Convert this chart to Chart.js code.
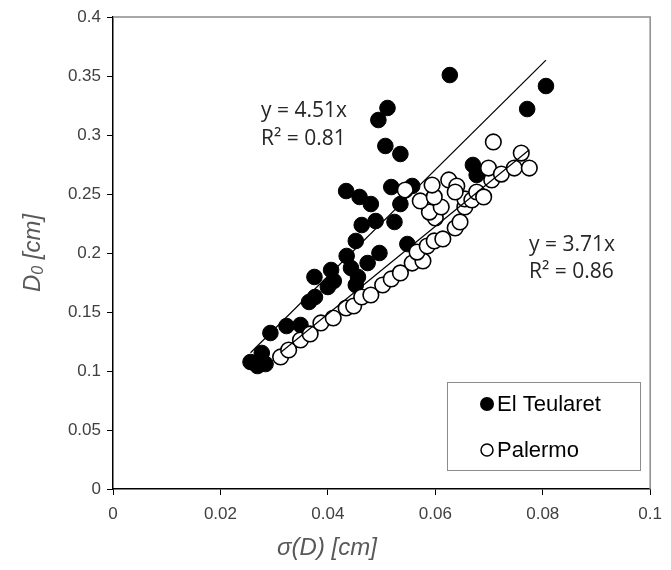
<!DOCTYPE html>
<html>
<head>
<meta charset="utf-8">
<script src="https://cdn.jsdelivr.net/npm/chart.js@4.4.1/dist/chart.umd.min.js"></script>
<style>
  html, body { margin: 0; padding: 0; background: #fff; }
  #wrap { width: 671px; height: 570px; }
</style>
</head>
<body>
<div id="wrap"><canvas id="scatterChart" width="671" height="570"></canvas></div>
<script>
// Data
const teularetX = [0.0256, 0.0269, 0.0284, 0.0277, 0.0293, 0.0323, 0.0349, 0.0365, 0.0376, 0.0375,
    0.0406, 0.0411, 0.0400, 0.0435, 0.0443, 0.0456, 0.0452, 0.0474, 0.0496, 0.0452,
    0.0463, 0.0489, 0.0524, 0.0548, 0.0535, 0.0480, 0.0459, 0.0434, 0.0518, 0.0557,
    0.0535, 0.0507, 0.0494, 0.0511, 0.0627, 0.0670, 0.0677, 0.0771, 0.0806];
const teularetY = [0.1076, 0.1042, 0.1059, 0.1153, 0.1322, 0.1381, 0.1390, 0.1585, 0.1627, 0.1797,
    0.1856, 0.1763, 0.1712, 0.1975, 0.1873, 0.1797, 0.1729, 0.1915, 0.2000, 0.2102,
    0.2237, 0.2271, 0.2263, 0.2076, 0.2415, 0.2415, 0.2475, 0.2525, 0.2559, 0.2568,
    0.2839, 0.2907, 0.3127, 0.3229, 0.3508, 0.2746, 0.2661, 0.3220, 0.3415];

const palermoX = [0.0312, 0.0327, 0.0349, 0.0367, 0.0387, 0.0410, 0.0434, 0.0448, 0.0463, 0.0480,
    0.0502, 0.0518, 0.0535, 0.0557, 0.0577, 0.0566, 0.0585, 0.0598, 0.0614, 0.0637,
    0.0646, 0.0600, 0.0589, 0.0611, 0.0655, 0.0572, 0.0598, 0.0655, 0.0668, 0.0544,
    0.0594, 0.0625, 0.0640, 0.0637, 0.0677, 0.0690, 0.0705, 0.0699, 0.0723, 0.0747,
    0.0775, 0.0760, 0.0708];
const palermoY = [0.1119, 0.1178, 0.1263, 0.1314, 0.1407, 0.1449, 0.1534, 0.1551, 0.1627, 0.1644,
    0.1729, 0.1780, 0.1831, 0.1915, 0.1932, 0.2008, 0.2059, 0.2102, 0.2119, 0.2212,
    0.2263, 0.2297, 0.2347, 0.2390, 0.2390, 0.2441, 0.2475, 0.2458, 0.2449, 0.2534,
    0.2576, 0.2619, 0.2568, 0.2517, 0.2517, 0.2475, 0.2619, 0.2720, 0.2669, 0.2720,
    0.2720, 0.2847, 0.2941];

const seriesNames = ["El Teularet", "Palermo"];
const slopes = [4.51, 3.71];
const fitLabels = [["y = 4.51x", "R\u00b2 = 0.81"], ["y = 3.71x", "R\u00b2 = 0.86"]];
const xTicks = ["0", "0.02", "0.04", "0.06", "0.08", "0.1"];
const yTicks = ["0", "0.05", "0.1", "0.15", "0.2", "0.25", "0.3", "0.35", "0.4"];

function toPoints(xs, ys) {
    return xs.map((x, i) => ({ x: x, y: ys[i] }));
}
// trend line through origin, spanning the series' x range
function fitLine(xs, slope) {
    const lo = Math.min(...xs), hi = Math.max(...xs);
    return [{ x: lo, y: lo * slope }, { x: hi, y: hi * slope }];
}

// axis titles, fit labels, legend and plot frame
const extras = {
    id: "extras",
    afterDraw(chart) {
        const ctx = chart.ctx;
        const a = chart.chartArea;
        ctx.save();
        // grey frame on top and right
        ctx.strokeStyle = "#8c8c8c";
        ctx.lineWidth = 1.5;
        ctx.beginPath();
        ctx.moveTo(a.left, a.top);
        ctx.lineTo(a.right, a.top);
        ctx.lineTo(a.right, a.bottom);
        ctx.stroke();

        // x title
        ctx.fillStyle = "#595959";
        ctx.font = "italic 24px 'Liberation Sans', Arial, sans-serif";
        ctx.textAlign = "center";
        ctx.textBaseline = "middle";
        ctx.fillText("\u03c3(D) [cm]", 327, 548);

        // y title with subscript
        ctx.translate(33, 253);
        ctx.rotate(-Math.PI / 2);
        ctx.textAlign = "left";
        const big = "italic 24px 'Liberation Sans', Arial, sans-serif";
        const small = "italic 16px 'Liberation Sans', Arial, sans-serif";
        ctx.font = big;
        const wD = ctx.measureText("D").width;
        const wRest = ctx.measureText(" [cm]").width;
        ctx.font = small;
        const w0 = ctx.measureText("0").width;
        let x0 = -(wD + w0 + wRest) / 2;
        ctx.font = big;
        ctx.fillText("D", x0, 0);
        ctx.font = small;
        ctx.fillText("0", x0 + wD, 6);
        ctx.font = big;
        ctx.fillText(" [cm]", x0 + wD + w0, 0);
        ctx.setTransform(1, 0, 0, 1, 0, 0);

        // fit labels
        ctx.fillStyle = "#262626";
        ctx.font = "21px 'Open Sans', sans-serif";
        ctx.textAlign = "left";
        ctx.fillText(fitLabels[0][0], 261, 111);
        ctx.fillText(fitLabels[0][1], 261, 139);
        ctx.fillText(fitLabels[1][0], 529, 245);
        ctx.fillText(fitLabels[1][1], 529, 272);

        // legend box
        ctx.fillStyle = "#fff";
        ctx.fillRect(447, 382, 193, 88);
        ctx.strokeStyle = "#8c8c8c";
        ctx.lineWidth = 1;
        ctx.strokeRect(447.5, 382.5, 193, 88);
        ctx.fillStyle = "#000";
        ctx.beginPath();
        ctx.arc(487, 404, 7, 0, Math.PI * 2);
        ctx.fill();
        ctx.beginPath();
        ctx.arc(487, 450, 6, 0, Math.PI * 2);
        ctx.lineWidth = 1.5;
        ctx.strokeStyle = "#000";
        ctx.stroke();
        ctx.fillStyle = "#000";
        ctx.font = "22px 'Liberation Sans', Arial, sans-serif";
        ctx.fillText(seriesNames[0], 497, 405);
        ctx.fillText(seriesNames[1], 497, 451);
        ctx.restore();
    }
};

const ctx = document.getElementById("scatterChart").getContext("2d");
const scatterChart = new Chart(ctx, {
    type: "scatter",
    data: {
        datasets: [
            {
                label: seriesNames[0] + " fit",
                type: "line",
                data: fitLine(teularetX, slopes[0]),
                borderColor: "#000",
                borderWidth: 1.2,
                pointRadius: 0,
                fill: false,
                order: 1
            },
            {
                label: seriesNames[1] + " fit",
                type: "line",
                data: fitLine(palermoX, slopes[1]),
                borderColor: "#000",
                borderWidth: 1.2,
                pointRadius: 0,
                fill: false,
                order: 1
            },
            {
                label: seriesNames[1],
                data: toPoints(palermoX, palermoY),
                backgroundColor: "#fff",
                borderColor: "#000",
                borderWidth: 1.6,
                pointRadius: 7.8,
                order: 2
            },
            {
                label: seriesNames[0],
                data: toPoints(teularetX, teularetY),
                backgroundColor: "#000",
                borderColor: "#000",
                borderWidth: 1,
                pointRadius: 7.8,
                order: 3
            }
        ]
    },
    options: {
        responsive: false,
        animation: false,
        layout: { padding: { left: 0, top: 17, right: 15, bottom: 0 } },
        plugins: {
            legend: { display: false },
            tooltip: { enabled: false }
        },
        scales: {
            x: {
                type: "linear",
                min: 0,
                max: 0.1,
                afterFit: (scale) => { scale.height = 81; },
                afterBuildTicks: (scale) => {
                    scale.ticks = xTicks.map((t) => ({ value: parseFloat(t) }));
                },
                ticks: {
                    callback: (v, i) => xTicks[i],
                    color: "#404040",
                    font: { family: "'Liberation Sans', Arial, sans-serif", size: 17 },
                    padding: 9,
                    maxRotation: 0
                },
                grid: { drawOnChartArea: false, drawTicks: true, tickLength: 6, color: "#000" },
                border: { color: "#000", width: 1.5 }
            },
            y: {
                type: "linear",
                min: 0,
                max: 0.4,
                afterFit: (scale) => { scale.width = 113; },
                afterBuildTicks: (scale) => {
                    scale.ticks = yTicks.map((t) => ({ value: parseFloat(t) }));
                },
                ticks: {
                    callback: (v, i) => yTicks[i],
                    color: "#404040",
                    font: { family: "'Liberation Sans', Arial, sans-serif", size: 17 },
                    padding: 6
                },
                grid: { drawOnChartArea: false, drawTicks: true, tickLength: 6, color: "#000" },
                border: { color: "#000", width: 1.5 }
            }
        }
    },
    plugins: [extras]
});
</script>
</body>
</html>
